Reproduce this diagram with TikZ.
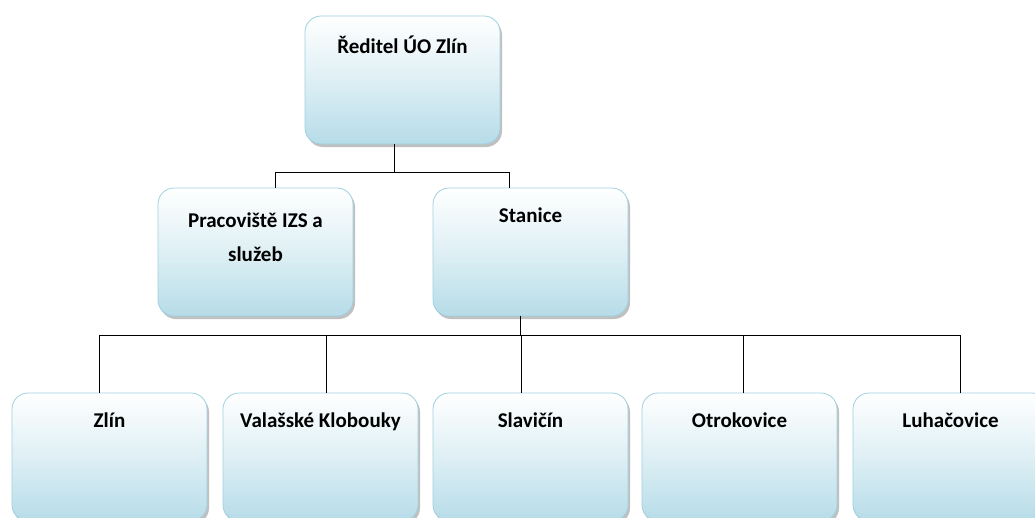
\documentclass[tikz,border=0pt]{standalone}
\usepackage{fontspec}
\setmainfont{Carlito}
\usetikzlibrary{shadows}
\definecolor{boxblue}{RGB}{182,220,232}
\definecolor{boxborder}{RGB}{160,208,224}
\begin{document}
\begin{tikzpicture}[x=1pt,y=-1pt,
  orgbox/.style={rectangle, rounded corners=16pt, draw=boxborder, line width=0.8pt,
    top color=white, bottom color=boxblue, middle color=white!55!boxblue,
    minimum width=195pt, minimum height=128pt, inner sep=0pt,
    drop shadow={shadow xshift=2pt, shadow yshift=-3pt, fill=black!45, opacity=0.55}},
  lbl/.style={anchor=north, yshift=-17pt, font=\fontsize{21}{34}\selectfont\bfseries, align=center, text=black},
  conn/.style={draw=black, line width=1pt}]
\useasboundingbox (0,0) rectangle (1035,517);
\begin{scope}
\clip (0,0) rectangle (1035,517);
\node[orgbox, label={[lbl, name=tdir]north:Ředitel ÚO Zlín}] (dir) at (402.5,80) {};
\node[orgbox, label={[lbl, name=tprac, yshift=-5pt]north:Pracoviště IZS a\\služeb}] (prac) at (255.5,252) {};
\node[orgbox, label={[lbl, name=tstan]north:Stanice}] (stan) at (530.5,252) {};
\node[orgbox, label={[lbl, name=tzlin]north:Zlín}] (zlin) at (109.5,457) {};
\node[orgbox, label={[lbl, name=tval]north:Valašské Klobouky}] (val) at (320.5,457) {};
\node[orgbox, label={[lbl, name=tslav]north:Slavičín}] (slav) at (530.5,457) {};
\node[orgbox, label={[lbl, name=totro]north:Otrokovice}] (otro) at (739.5,457) {};
\node[orgbox, label={[lbl, name=tluh]north:Luhačovice}] (luh) at (950.5,457) {};
\end{scope}
% junction coordinates
\coordinate (j1) at (394,172);
\coordinate (j1a) at (275,172);
\coordinate (j1b) at (509,172);
\coordinate (j2) at (520,335);
\coordinate (k1) at (99,335);
\coordinate (k2) at (326,335);
\coordinate (k3) at (521,335);
\coordinate (k4) at (743,335);
\coordinate (k5) at (960,335);
\draw[conn] (dir.south -| j1) -- (j1);
\draw[conn] (prac.north -| j1a) -- (j1a) -- (j1b) -- (stan.north -| j1b);
\draw[conn] (stan.south -| j2) -- (j2);
\draw[conn] (k1) -- (k5);
\draw[conn] (k1) -- (zlin.north -| k1);
\draw[conn] (k2) -- (val.north -| k2);
\draw[conn] (k3) -- (slav.north -| k3);
\draw[conn] (k4) -- (otro.north -| k4);
\draw[conn] (k5) -- (luh.north -| k5);
\end{tikzpicture}
\end{document}
